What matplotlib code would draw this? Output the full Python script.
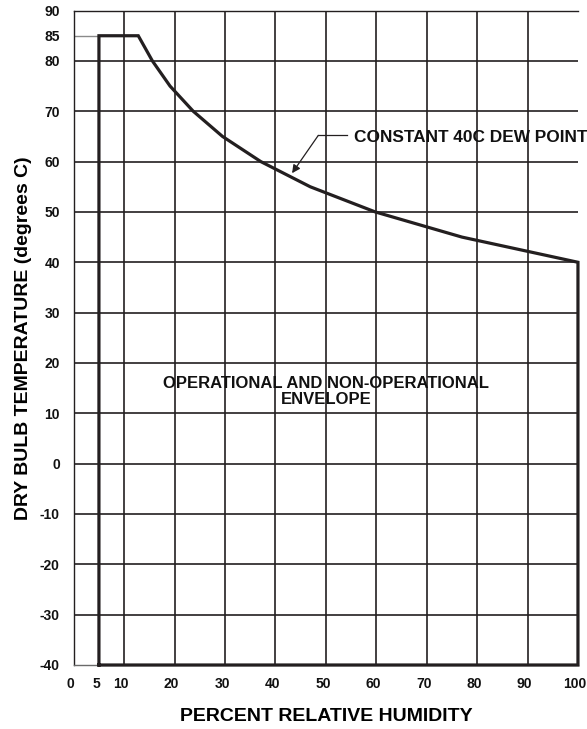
import matplotlib
matplotlib.use("Agg")
import matplotlib.pyplot as plt
import matplotlib.transforms as mtransforms

plt.rcParams['font.family'] = ['Liberation Sans', 'DejaVu Sans']
plt.rcParams['font.weight'] = 'bold'

# --- Daten ---
rh_ticks = [0, 5, 10, 20, 30, 40, 50, 60, 70, 80, 90, 100]
temp_ticks = [-40, -30, -20, -10, 0, 10, 20, 30, 40, 50, 60, 70, 80, 85, 90]
rh_grid = [10, 20, 30, 40, 50, 60, 70, 80, 90]
temp_grid = [-30, -20, -10, 0, 10, 20, 30, 40, 50, 60, 70, 80]

# Grenzen der Huellkurve
rh_min = 5
temp_min = -40
temp_max = 85

# Konstanter Taupunkt 40C (Ecken der Kurve)
dew_rh = [12.8, 15.6, 19.1, 23.7, 29.5, 37.1, 46.9, 59.8, 77.0, 100]
dew_temp = [85, 80, 75, 70, 65, 60, 55, 50, 45, 40]

# Pfeil zur Beschriftung
arrow_tip = (43.3, 57.7)
arrow_elbow = (48.5, 65.2)
arrow_end = (54.2, 65.2)
label_pos = (55.6, 64.8)

INK = '#231f20'

fig = plt.figure(figsize=(5.87, 7.29), dpi=100)
ax = fig.add_axes([0.1256, 0.0878, 0.859, 0.8977])
ax.set_xlim(0, 100)
ax.set_ylim(-40, 90)

for x in rh_grid:
    ax.axvline(x, color=INK, lw=1.2, zorder=1)
for y in temp_grid:
    ax.axhline(y, color=INK, lw=1.2, zorder=1)

# kurze Linie bei 85 links der Huellkurve
ax.plot([0, rh_min], [temp_max, temp_max], color='#8a8a8a', lw=1.0, zorder=1)

# Huellkurve
env_x = [rh_min, rh_min] + dew_rh + [dew_rh[-1], rh_min]
env_y = [temp_min, temp_max] + dew_temp + [temp_min, temp_min]
ax.plot(env_x, env_y, color=INK, lw=2.3, solid_joinstyle='miter', zorder=3, clip_on=False)

# Beschriftung Taupunkt
ax.plot([arrow_elbow[0], arrow_end[0]], [arrow_elbow[1], arrow_end[1]], color=INK, lw=0.9, zorder=4)
ax.annotate('', xy=arrow_tip, xytext=arrow_elbow,
            arrowprops=dict(arrowstyle='-|>', color=INK, lw=0.9, mutation_scale=12,
                            shrinkA=0, shrinkB=0), zorder=4)
ax.text(label_pos[0], label_pos[1], 'CONSTANT 40C DEW POINT', fontsize=12.4, fontweight='bold',
        ha='left', va='center', color='#111111', clip_on=False, zorder=5)

ax.text(50, 14.4, 'OPERATIONAL AND NON-OPERATIONAL\nENVELOPE', fontsize=12,
        fontweight='bold', ha='center', va='center', linespacing=1.1, color='#111111', zorder=5)

ax.set_xticks(rh_ticks)
ax.set_yticks(temp_ticks)
ax.set_xticklabels([str(v) for v in rh_ticks])
ax.set_yticklabels([str(v) for v in temp_ticks])
ax.tick_params(axis='both', length=0, labelsize=10, colors='#111111')
ax.tick_params(axis='x', pad=9)
ax.tick_params(axis='y', pad=10)

offset = mtransforms.ScaledTranslation(-3 / 100, 0, fig.dpi_scale_trans)
for lbl in ax.get_xticklabels():
    lbl.set_transform(lbl.get_transform() + offset)

for side in ['left', 'top', 'bottom']:
    ax.spines[side].set_color(INK)
    ax.spines[side].set_linewidth(1.0)
ax.spines['bottom'].set_color('#6a6a6a')
ax.spines['right'].set_visible(False)

ax.set_xlabel('PERCENT RELATIVE HUMIDITY', fontsize=14, fontweight='bold', labelpad=12)
ax.set_ylabel('DRY BULB TEMPERATURE (degrees C)', fontsize=14, fontweight='bold', labelpad=6)

plt.savefig('out.png', dpi=100)
